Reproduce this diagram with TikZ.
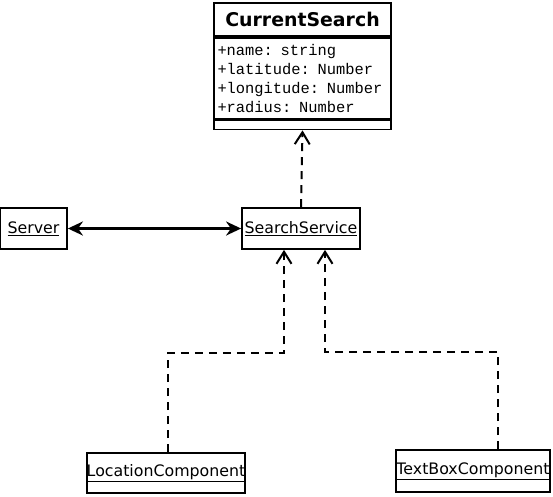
\documentclass[tikz,border=0pt]{standalone}
\usepackage{fontspec}
\setmainfont{DejaVu Sans}
\setmonofont{Liberation Mono}
\usetikzlibrary{positioning, arrows.meta, calc}

\begin{document}
\begin{tikzpicture}[x=1pt, y=-1pt, line width=1.8pt,
  comp/.style={draw, inner sep=0pt, minimum height=41pt, align=center, font=\fontsize{15.8}{17}\selectfont},
  classpart/.style={draw, inner sep=0pt, minimum width=177pt, anchor=north},
  depends/.style={line width=2pt, dash pattern=on 8pt off 6pt, -{Straight Barb[length=12pt, width=15pt, line width=2pt]}},
  assoc/.style={line width=2.4pt, {Stealth[length=15pt, width=14pt]}-{Stealth[length=15pt, width=14pt]}}]
  \useasboundingbox (0,0) rectangle (553,496);

  % CurrentSearch class with three parts
  \node[classpart, minimum height=33pt, font=\fontsize{18.9}{21}\selectfont\bfseries] (title) at (302.5,2) {CurrentSearch};
  \node[classpart, minimum height=81pt, text width=170pt, align=left, font=\ttfamily\fontsize{15.4}{19}\selectfont] (attrs) at (title.south) {+name: string\\+latitude: Number\\+longitude: Number\\+radius: Number};
  \node[classpart, minimum height=9pt] (ops) at (attrs.south) {};

  \node[comp, minimum width=67pt] (server) at (33.5,228.5) {\underline{Server}};
  \node[comp, minimum width=118pt] (service) at (301,228.5) {\underline{SearchService}};
  \node[comp, minimum width=158pt, minimum height=40pt] (location) at (166,473) {\underline{LocationComponent}};
  \node[comp, minimum width=154pt, minimum height=42pt] (textbox) at (473,471) {\underline{TextBoxComponent}};

  \coordinate (lbend) at (284,353);
  \coordinate (rbend) at (325,352);
  \coordinate (rdrop) at (498,352);

  \draw[assoc] (server) -- (service);
  \draw[depends] (service.north) -- (ops.south);
  \draw[depends] (location.north -| 168,0) |- (lbend) -- (lbend |- service.south);
  \draw[depends] (textbox.north -| rdrop) |- (rbend) -- (rbend |- service.south);
\end{tikzpicture}
\end{document}
